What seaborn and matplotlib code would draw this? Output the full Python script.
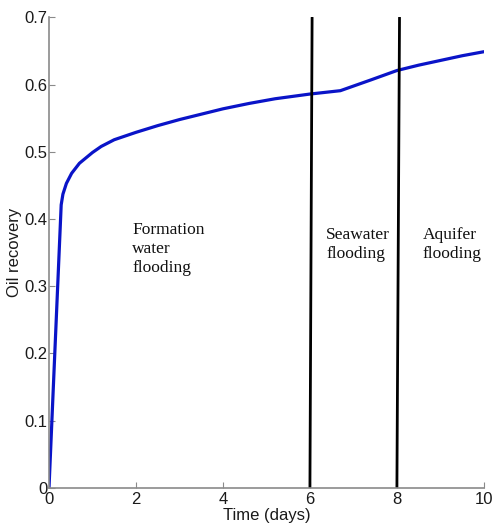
import matplotlib
matplotlib.use("Agg")
import matplotlib.pyplot as plt
import seaborn as sns
import pandas as pd

# Data
time_days = [0, 0.28, 0.32, 0.4, 0.52, 0.7, 1.0, 1.2, 1.5, 2.0, 2.5, 3.0, 3.5,
             4.0, 4.6, 5.2, 6.0, 6.7, 7.4, 8.0, 8.5, 9.0, 9.5, 10.0]
oil_recovery = [0, 0.421, 0.437, 0.453, 0.468, 0.483, 0.499, 0.508, 0.518,
                0.529, 0.539, 0.548, 0.556, 0.564, 0.572, 0.579, 0.586, 0.591,
                0.607, 0.621, 0.629, 0.636, 0.643, 0.649]

boundary_bottom_x = [6.0, 8.0]
boundary_top_x = [6.05, 8.06]
boundary_y = [0.0, 0.7]

region_labels = ["Formation\nwater\nflooding", "Seawater\nflooding", "Aquifer\nflooding"]
region_label_x = [1.91, 6.37, 8.6]
region_label_y = [0.395, 0.388, 0.388]

xticks = [0, 2, 4, 6, 8, 10]
yticks = [0, 0.1, 0.2, 0.3, 0.4, 0.5, 0.6, 0.7]
ytick_labels = ["0", "0.1", "0.2", "0.3", "0.4", "0.5", "0.6", "0.7"]

sns.set_theme(style="white")
plt.rcParams["font.family"] = ["Liberation Sans", "DejaVu Sans"]

fig = plt.figure(figsize=(4.97, 5.29), dpi=100)
ax = fig.add_axes([0.0986, 0.078, 0.875, 0.889])

df = pd.DataFrame({"t": time_days, "r": oil_recovery})
sns.lineplot(data=df, x="t", y="r", ax=ax, color="#0a14c8", linewidth=2.3,
             estimator=None, sort=False)

for xb, xt in zip(boundary_bottom_x, boundary_top_x):
    bdf = pd.DataFrame({"x": [xb, xt], "y": boundary_y})
    sns.lineplot(data=bdf, x="x", y="y", ax=ax, color="black", linewidth=2.0,
                 estimator=None, sort=False)

for txt, tx, ty in zip(region_labels, region_label_x, region_label_y):
    ax.text(tx, ty, txt, fontsize=12.5, family=["Liberation Serif"], ha="left",
            va="top", multialignment="left", color="#111111", linespacing=1.25)

ax.set_xlim(0, 10)
ax.set_ylim(0, 0.7)
ax.set_xticks(xticks)
ax.set_xticklabels([str(v) for v in xticks])
ax.set_yticks(yticks)
ax.set_yticklabels(ytick_labels)

for side in ["top", "right"]:
    ax.spines[side].set_visible(False)
for side in ["left", "bottom"]:
    ax.spines[side].set_color("#8a8a8a")
    ax.spines[side].set_linewidth(1.2)

ax.tick_params(axis="both", direction="in", length=4, width=0.8,
               color="#8a8a8a", labelsize=12, labelcolor="#1a1a1a",
               left=True, bottom=True)
ax.tick_params(axis="x", pad=3)
ax.tick_params(axis="y", pad=1)

ax.set_xlabel("Time (days)", fontsize=12, color="#1a1a1a", labelpad=1)
ax.set_ylabel("Oil recovery", fontsize=12, color="#1a1a1a", labelpad=2)
ax.grid(False)

fig.savefig("out.png", dpi=100)
